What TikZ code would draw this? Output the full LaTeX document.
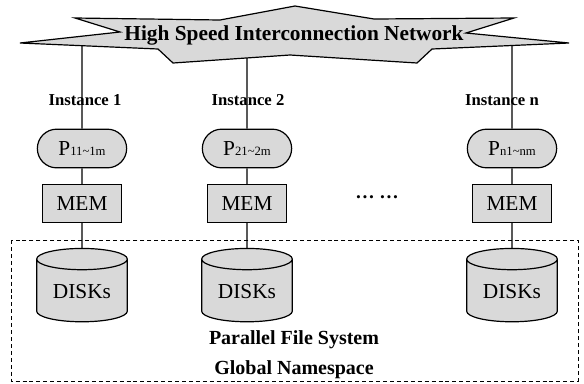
\documentclass[tikz,border=0pt]{standalone}
\usepackage{fontspec}
\setmainfont{Liberation Serif}
\usetikzlibrary{shapes.geometric,shapes.misc}
\definecolor{boxgray}{HTML}{D9D9D9}
\newcommand{\proclabel}[1]{P{\fontsize{9.5}{10}\selectfont #1}}
\begin{document}
\begin{tikzpicture}[x=0.75pt, y=-0.75pt, line width=0.9pt, line join=miter,
		instlabel/.style={font=\bfseries\fontsize{12.5}{14}\selectfont, inner sep=0pt},
		procnode/.style={draw, fill=boxgray, rounded rectangle, minimum width=69pt, minimum height=29pt, inner sep=1pt, font=\fontsize{16}{16}\selectfont},
		memnode/.style={draw, fill=boxgray, rectangle, minimum width=59pt, minimum height=28pt, inner sep=1pt, font=\fontsize{16}{16}\selectfont},
		disknode/.style={draw, fill=boxgray, cylinder, shape border rotate=90, aspect=0.35, minimum width=68pt, minimum height=55pt, inner sep=1pt, font=\fontsize{16}{16}\selectfont}]
	\useasboundingbox (0,0) rectangle (584,383);
	% network star
	\draw[fill=boxgray] (20,43) -- (120,32) -- (75,18) -- (220,20) -- (295,6) -- (374,19) -- (514,18) -- (466,33)
		-- (569,43) -- (432,49) -- (417,63) -- (290,55) -- (173,63) -- (158,49) -- cycle;
	\node[font=\bfseries\fontsize{16}{16}\selectfont] (net) at (294,35) {High Speed Interconnection Network};
	% storage area
	\draw[dashed, line width=0.6pt, dash pattern=on 3pt off 2.2pt] (11,240) rectangle (578,381);
	\node[align=center, font=\bfseries\fontsize{15}{22.5}\selectfont] (pfs) at (294,355) {Parallel File System\\Global Namespace};
	% instances
	\foreach \i/\x/\lx/\ny/\sub in {1/82/85/46/11\textasciitilde1m, 2/247/248/58/21\textasciitilde2m, n/512/502/46/n1\textasciitilde nm}{
		\coordinate (net\i) at (\x,\ny);
		\node[instlabel] (inst\i) at (\lx,100) {Instance \i};
		\node[procnode] (p\i) at (\x,148.5) {\proclabel{\sub}};
		\node[memnode] (mem\i) at (\x,203.5) {MEM};
		\node[disknode] (disk\i) at (\x,292) {DISKs};
		\draw (net\i) -- (p\i);
		\draw (p\i) -- (mem\i);
		\draw (mem\i) -- (disk\i);
	}
	\node[font=\bfseries\fontsize{14.5}{15}\selectfont] (dots) at (377,197) {… …};
\end{tikzpicture}
\end{document}
